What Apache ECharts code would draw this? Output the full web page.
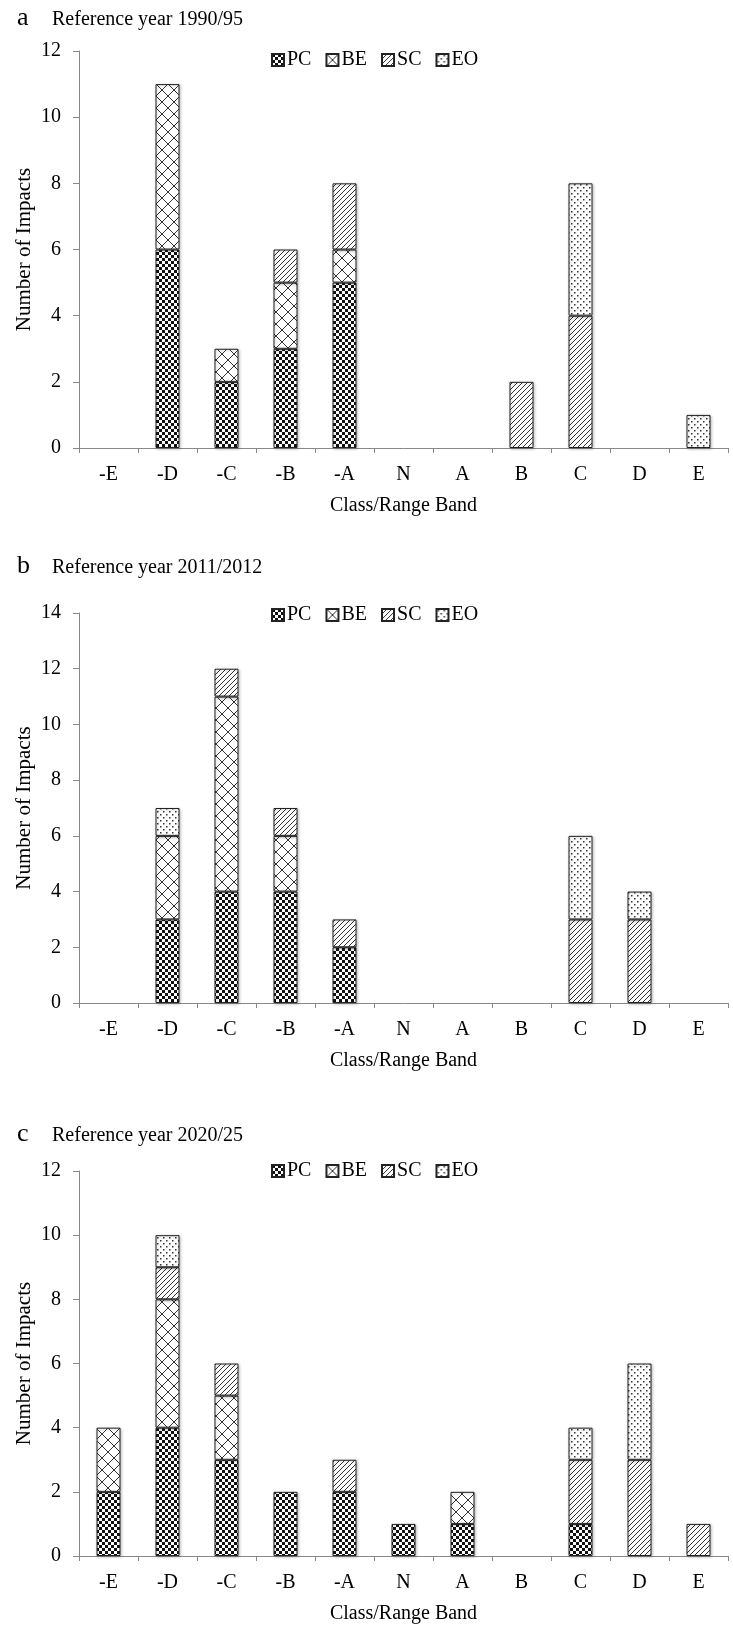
<!DOCTYPE html>
<html>
<head>
<meta charset="utf-8">
<script src="https://cdn.jsdelivr.net/npm/echarts@6/dist/echarts.min.js"></script>
<style>
html,body{margin:0;padding:0;background:#fff;}
#chart{width:733px;height:1625px;}
</style>
</head>
<body>
<div id="chart"></div>
<script>
// ---- data ----
const categories = ['-E','-D','-C','-B','-A','N','A','B','C','D','E'];
const seriesNames = ['PC','BE','SC','EO'];
const panelLetters = ['a','b','c'];
const panelTitles = ['Reference year 1990/95','Reference year 2011/2012','Reference year 2020/25'];
const yMaxes = [12, 14, 12];
const yInterval = 2;

// panel a (1990/95)
const a_PC = [0,6,2,3,5,0,0,0,0,0,0];
const a_BE = [0,5,1,2,1,0,0,0,0,0,0];
const a_SC = [0,0,0,1,2,0,0,2,4,0,0];
const a_EO = [0,0,0,0,0,0,0,0,4,0,1];
// panel b (2011/2012)
const b_PC = [0,3,4,4,2,0,0,0,0,0,0];
const b_BE = [0,3,7,2,0,0,0,0,0,0,0];
const b_SC = [0,0,1,1,1,0,0,0,3,3,0];
const b_EO = [0,1,0,0,0,0,0,0,3,1,0];
// panel c (2020/25)
const c_PC = [2,4,3,2,2,1,1,0,1,0,0];
const c_BE = [2,4,2,0,0,0,1,0,0,0,0];
const c_SC = [0,1,1,0,1,0,0,0,2,3,1];
const c_EO = [0,1,0,0,0,0,0,0,1,3,0];

const panelData = [
  [a_PC, a_BE, a_SC, a_EO],
  [b_PC, b_BE, b_SC, b_EO],
  [c_PC, c_BE, c_SC, c_EO]
];

// ---- patterns ----
function makeCanvas(w, h, draw) {
  const c = document.createElement('canvas');
  c.width = w; c.height = h;
  const ctx = c.getContext('2d');
  ctx.fillStyle = '#fff';
  ctx.fillRect(0, 0, w, h);
  draw(ctx);
  return c;
}
const patPC = makeCanvas(6, 6, ctx => {
  ctx.fillStyle = '#111';
  ctx.fillRect(0, 0, 3, 3);
  ctx.fillRect(3, 3, 3, 3);
});
const patBE = makeCanvas(12, 12, ctx => {
  ctx.strokeStyle = '#333';
  ctx.lineWidth = 1;
  ctx.beginPath();
  ctx.moveTo(0, 0); ctx.lineTo(12, 12);
  ctx.moveTo(12, 0); ctx.lineTo(0, 12);
  ctx.stroke();
});
const patSC = makeCanvas(5, 5, ctx => {
  ctx.strokeStyle = '#333';
  ctx.lineWidth = 1;
  ctx.beginPath();
  ctx.moveTo(-1, 6); ctx.lineTo(6, -1);
  ctx.moveTo(-1, 1); ctx.lineTo(1, -1);
  ctx.moveTo(4, 6); ctx.lineTo(6, 4);
  ctx.stroke();
});
const patEO = makeCanvas(6, 6, ctx => {
  ctx.fillStyle = '#333';
  ctx.fillRect(1, 1, 1.5, 1.5);
  ctx.fillRect(4, 4, 1.5, 1.5);
});
const patterns = [patPC, patBE, patSC, patEO];

// ---- layout ----
const fontFam = "'Liberation Serif','Times New Roman',serif";
const grids = [
  {left: 79, top: 51, width: 649, height: 397},
  {left: 79, top: 613, width: 649, height: 390},
  {left: 79, top: 1171, width: 649, height: 388}
];
const titleY = [4, 552, 1120];
const legendY = [45, 600, 1156];

const option = {
  backgroundColor: '#fff',
  animation: false,
  textStyle: {fontFamily: fontFam, color: '#000'},
  title: [],
  legend: [],
  grid: [],
  xAxis: [],
  yAxis: [],
  series: []
};

grids.forEach((g, i) => {
  option.title.push({
    text: panelLetters[i], left: 12, top: titleY[i] - 4,
    textStyle: {fontFamily: fontFam, fontSize: 26, fontWeight: 'normal', color: '#000'}
  });
  option.title.push({
    text: panelTitles[i], left: 47, top: titleY[i] + 1,
    textStyle: {fontFamily: fontFam, fontSize: 20, fontWeight: 'normal', color: '#000'}
  });
  option.legend.push({
    data: seriesNames, left: 266, top: legendY[i],
    itemWidth: 12, itemHeight: 12, itemGap: 14, icon: 'rect',
    textStyle: {fontFamily: fontFam, fontSize: 20, color: '#000', padding: [0, 0, 0, -2]}
  });
  option.grid.push(Object.assign({containLabel: false}, g));
  option.xAxis.push({
    type: 'category', gridIndex: i, data: categories,
    boundaryGap: true,
    name: 'Class/Range Band', nameLocation: 'middle', nameGap: 48,
    nameTextStyle: {fontFamily: fontFam, fontSize: 20, color: '#000'},
    axisLine: {lineStyle: {color: '#888', width: 1}},
    axisTick: {show: true, length: 5, lineStyle: {color: '#888'}, alignWithLabel: false},
    axisLabel: {fontFamily: fontFam, fontSize: 20, color: '#000', margin: 17},
    splitLine: {show: false}
  });
  option.yAxis.push({
    type: 'value', gridIndex: i, min: 0, max: yMaxes[i], interval: yInterval,
    name: 'Number of Impacts', nameLocation: 'middle', nameGap: 44, nameRotate: 90,
    nameMoveOverlap: false,
    nameTextStyle: {fontFamily: fontFam, fontSize: 21, color: '#000'},
    axisLine: {show: true, lineStyle: {color: '#888', width: 1}},
    axisTick: {show: true, length: 6, inside: false, lineStyle: {color: '#888'}},
    axisLabel: {fontFamily: fontFam, fontSize: 20, color: '#000', margin: 18},
    splitLine: {show: false}
  });
  seriesNames.forEach((n, k) => {
    option.series.push({
      type: 'bar', name: n, xAxisIndex: i, yAxisIndex: i,
      stack: 'panel' + i, barWidth: 24,
      data: panelData[i][k].map(v => v === 0 ? '-' : v),
      itemStyle: {
        color: {image: patterns[k], repeat: 'repeat'},
        borderColor: '#222', borderWidth: 1,
        shadowBlur: 3, shadowColor: 'rgba(0,0,0,0.25)', shadowOffsetX: 1, shadowOffsetY: 1
      },
      emphasis: {disabled: true}
    });
  });
});

const chart = echarts.init(document.getElementById('chart'), null, {renderer: 'canvas'});
chart.setOption(option);
</script>
</body>
</html>
